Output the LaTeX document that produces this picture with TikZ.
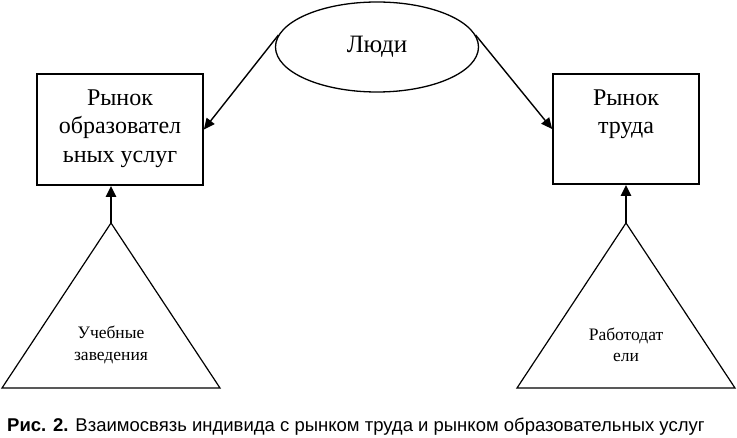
\documentclass[tikz,border=0pt]{standalone}
\usepackage{fontspec}
\setmainfont{Liberation Serif}
\newfontfamily\capfont{Liberation Sans}
\usetikzlibrary{shapes.geometric,arrows.meta,positioning,calc}
\tikzset{
  mbox/.style  ={rectangle, draw=black, line width=1.7pt, inner sep=0pt},
  btxt/.style  ={align=center, font=\fontsize{24}{28.5}\selectfont, inner sep=0pt},
  ttxt/.style  ={align=center, font=\fontsize{17.5}{21.5}\selectfont, inner sep=0pt},
  oval/.style  ={ellipse, draw=black, line width=1.3pt, minimum width=203pt,
                 minimum height=90pt, inner sep=0pt, font=\fontsize{25}{28}\selectfont},
  tri/.style   ={draw=black, line width=1.2pt, line join=miter},
  flow/.style  ={-{Triangle[length=11pt,width=10pt]}, line width=1.4pt},
  flowv/.style ={-{Triangle[length=11pt,width=10pt]}, line width=2.2pt}
}
\begin{document}
\begin{tikzpicture}[x=1pt,y=-1pt]
  \useasboundingbox (0,0) rectangle (737,438);

  \node[oval] (people) at (377,47) {Люди};

  \node[mbox, minimum width=166pt, minimum height=111pt] (edu) at (120,129.5) {};
  \node[btxt, anchor=north] (edutxt) at ($(edu.north)+(0,16)$) {Рынок\\образовател\\ьных услуг};

  \node[mbox, minimum width=146pt, minimum height=110pt] (lab) at (626,129) {};
  \node[btxt, anchor=north] (labtxt) at ($(lab.north)+(0,16)$) {Рынок\\труда};

  % triangles
  \coordinate (schtop) at (111,223);
  \draw[tri] (schtop) -- (2,388) -- (220,388) -- cycle;
  \node[ttxt] (schtxt) at (111,345) {Учебные\\заведения};

  \coordinate (emptop) at (626,223);
  \draw[tri] (emptop) -- (517,388) -- (735,388) -- cycle;
  \node[ttxt] (emptxt) at (626,345) {Работодат\\ели};

  \draw[flow] (people.173) -- (edu.east);
  \draw[flow] (people.7) -- (lab.west);
  \draw[flowv] (schtop) -- (schtop |- edu.south);
  \draw[flowv] (emptop) -- (emptop |- lab.south);

  \node[anchor=base west, inner sep=0pt, font=\capfont\fontsize{18.5}{22}\selectfont] (cap) at (7,432)
    {\textbf{Рис. 2.} Взаимосвязь индивида с рынком труда и рынком образовательных услуг};
\end{tikzpicture}
\end{document}
